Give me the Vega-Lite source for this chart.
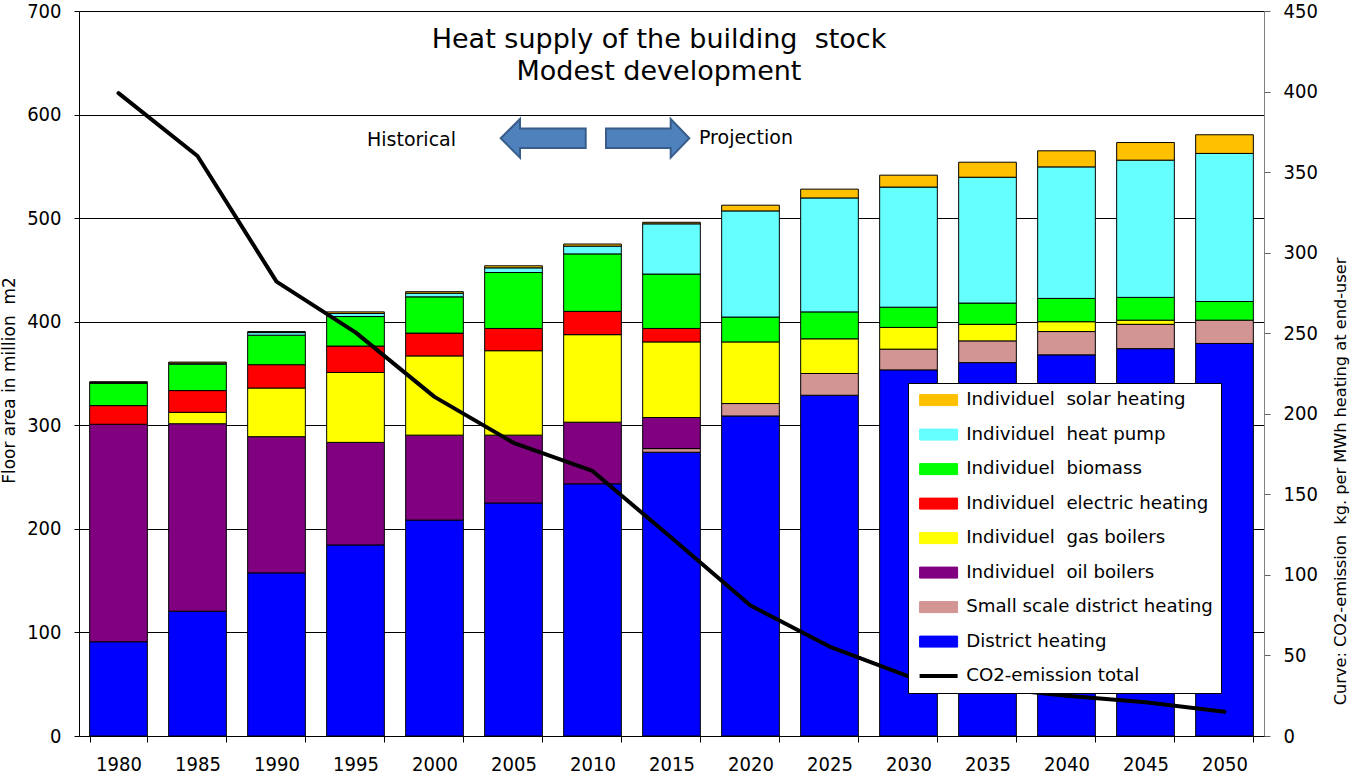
{
  "$schema": "https://vega.github.io/schema/vega-lite/v6.json",
  "width": 1185,
  "height": 725,
  "autosize": {"type": "none"},
  "padding": {"left": 79, "top": 11, "right": 86, "bottom": 42},
  "background": "white",
  "config": {"view": {"stroke": null}, "font": "DejaVu Sans"},
  "datasets": {
    "stock": [
      {"year": "1980", "type": "District heating", "rank": 1, "value": 91},
      {"year": "1980", "type": "Individuel oil boilers", "rank": 3, "value": 210},
      {"year": "1980", "type": "Individuel electric heating", "rank": 5, "value": 18},
      {"year": "1980", "type": "Individuel biomass", "rank": 6, "value": 21.5},
      {"year": "1980", "type": "Individuel heat pump", "rank": 7, "value": 1},
      {"year": "1980", "type": "Individuel solar heating", "rank": 8, "value": 0.5},
      {"year": "1985", "type": "District heating", "rank": 1, "value": 120.5},
      {"year": "1985", "type": "Individuel oil boilers", "rank": 3, "value": 181},
      {"year": "1985", "type": "Individuel gas boilers", "rank": 4, "value": 11},
      {"year": "1985", "type": "Individuel electric heating", "rank": 5, "value": 21},
      {"year": "1985", "type": "Individuel biomass", "rank": 6, "value": 25.5},
      {"year": "1985", "type": "Individuel heat pump", "rank": 7, "value": 1},
      {"year": "1985", "type": "Individuel solar heating", "rank": 8, "value": 1},
      {"year": "1990", "type": "District heating", "rank": 1, "value": 157.5},
      {"year": "1990", "type": "Individuel oil boilers", "rank": 3, "value": 131.5},
      {"year": "1990", "type": "Individuel gas boilers", "rank": 4, "value": 47},
      {"year": "1990", "type": "Individuel electric heating", "rank": 5, "value": 22.5},
      {"year": "1990", "type": "Individuel biomass", "rank": 6, "value": 28.5},
      {"year": "1990", "type": "Individuel heat pump", "rank": 7, "value": 2.5},
      {"year": "1990", "type": "Individuel solar heating", "rank": 8, "value": 1},
      {"year": "1995", "type": "District heating", "rank": 1, "value": 184.5},
      {"year": "1995", "type": "Individuel oil boilers", "rank": 3, "value": 99},
      {"year": "1995", "type": "Individuel gas boilers", "rank": 4, "value": 67.5},
      {"year": "1995", "type": "Individuel electric heating", "rank": 5, "value": 25.5},
      {"year": "1995", "type": "Individuel biomass", "rank": 6, "value": 28.5},
      {"year": "1995", "type": "Individuel heat pump", "rank": 7, "value": 3},
      {"year": "1995", "type": "Individuel solar heating", "rank": 8, "value": 1.5},
      {"year": "2000", "type": "District heating", "rank": 1, "value": 208.5},
      {"year": "2000", "type": "Individuel oil boilers", "rank": 3, "value": 82},
      {"year": "2000", "type": "Individuel gas boilers", "rank": 4, "value": 76.5},
      {"year": "2000", "type": "Individuel electric heating", "rank": 5, "value": 22},
      {"year": "2000", "type": "Individuel biomass", "rank": 6, "value": 35},
      {"year": "2000", "type": "Individuel heat pump", "rank": 7, "value": 3.5},
      {"year": "2000", "type": "Individuel solar heating", "rank": 8, "value": 1.5},
      {"year": "2005", "type": "District heating", "rank": 1, "value": 225},
      {"year": "2005", "type": "Individuel oil boilers", "rank": 3, "value": 65.5},
      {"year": "2005", "type": "Individuel gas boilers", "rank": 4, "value": 81.5},
      {"year": "2005", "type": "Individuel electric heating", "rank": 5, "value": 21.5},
      {"year": "2005", "type": "Individuel biomass", "rank": 6, "value": 54},
      {"year": "2005", "type": "Individuel heat pump", "rank": 7, "value": 4.5},
      {"year": "2005", "type": "Individuel solar heating", "rank": 8, "value": 2},
      {"year": "2010", "type": "District heating", "rank": 1, "value": 243.5},
      {"year": "2010", "type": "Individuel oil boilers", "rank": 3, "value": 59.5},
      {"year": "2010", "type": "Individuel gas boilers", "rank": 4, "value": 84.5},
      {"year": "2010", "type": "Individuel electric heating", "rank": 5, "value": 22.5},
      {"year": "2010", "type": "Individuel biomass", "rank": 6, "value": 55.5},
      {"year": "2010", "type": "Individuel heat pump", "rank": 7, "value": 7.5},
      {"year": "2010", "type": "Individuel solar heating", "rank": 8, "value": 2},
      {"year": "2015", "type": "District heating", "rank": 1, "value": 274},
      {"year": "2015", "type": "Small scale district heating", "rank": 2, "value": 3.5},
      {"year": "2015", "type": "Individuel oil boilers", "rank": 3, "value": 30},
      {"year": "2015", "type": "Individuel gas boilers", "rank": 4, "value": 73},
      {"year": "2015", "type": "Individuel electric heating", "rank": 5, "value": 13},
      {"year": "2015", "type": "Individuel biomass", "rank": 6, "value": 52.5},
      {"year": "2015", "type": "Individuel heat pump", "rank": 7, "value": 48.5},
      {"year": "2015", "type": "Individuel solar heating", "rank": 8, "value": 1.5},
      {"year": "2020", "type": "District heating", "rank": 1, "value": 309},
      {"year": "2020", "type": "Small scale district heating", "rank": 2, "value": 12},
      {"year": "2020", "type": "Individuel gas boilers", "rank": 4, "value": 59.5},
      {"year": "2020", "type": "Individuel biomass", "rank": 6, "value": 24},
      {"year": "2020", "type": "Individuel heat pump", "rank": 7, "value": 102.5},
      {"year": "2020", "type": "Individuel solar heating", "rank": 8, "value": 5.5},
      {"year": "2025", "type": "District heating", "rank": 1, "value": 329},
      {"year": "2025", "type": "Small scale district heating", "rank": 2, "value": 21},
      {"year": "2025", "type": "Individuel gas boilers", "rank": 4, "value": 33.5},
      {"year": "2025", "type": "Individuel biomass", "rank": 6, "value": 26},
      {"year": "2025", "type": "Individuel heat pump", "rank": 7, "value": 110},
      {"year": "2025", "type": "Individuel solar heating", "rank": 8, "value": 8.5},
      {"year": "2030", "type": "District heating", "rank": 1, "value": 353.5},
      {"year": "2030", "type": "Small scale district heating", "rank": 2, "value": 20},
      {"year": "2030", "type": "Individuel gas boilers", "rank": 4, "value": 21},
      {"year": "2030", "type": "Individuel biomass", "rank": 6, "value": 19.5},
      {"year": "2030", "type": "Individuel heat pump", "rank": 7, "value": 116},
      {"year": "2030", "type": "Individuel solar heating", "rank": 8, "value": 11.5},
      {"year": "2035", "type": "District heating", "rank": 1, "value": 360.5},
      {"year": "2035", "type": "Small scale district heating", "rank": 2, "value": 21},
      {"year": "2035", "type": "Individuel gas boilers", "rank": 4, "value": 16},
      {"year": "2035", "type": "Individuel biomass", "rank": 6, "value": 20.5},
      {"year": "2035", "type": "Individuel heat pump", "rank": 7, "value": 121.5},
      {"year": "2035", "type": "Individuel solar heating", "rank": 8, "value": 14.5},
      {"year": "2040", "type": "District heating", "rank": 1, "value": 368},
      {"year": "2040", "type": "Small scale district heating", "rank": 2, "value": 22.5},
      {"year": "2040", "type": "Individuel gas boilers", "rank": 4, "value": 9.5},
      {"year": "2040", "type": "Individuel biomass", "rank": 6, "value": 22.5},
      {"year": "2040", "type": "Individuel heat pump", "rank": 7, "value": 127},
      {"year": "2040", "type": "Individuel solar heating", "rank": 8, "value": 15.5},
      {"year": "2045", "type": "District heating", "rank": 1, "value": 374},
      {"year": "2045", "type": "Small scale district heating", "rank": 2, "value": 23.5},
      {"year": "2045", "type": "Individuel gas boilers", "rank": 4, "value": 4},
      {"year": "2045", "type": "Individuel biomass", "rank": 6, "value": 22},
      {"year": "2045", "type": "Individuel heat pump", "rank": 7, "value": 132.5},
      {"year": "2045", "type": "Individuel solar heating", "rank": 8, "value": 17},
      {"year": "2050", "type": "District heating", "rank": 1, "value": 379},
      {"year": "2050", "type": "Small scale district heating", "rank": 2, "value": 22.5},
      {"year": "2050", "type": "Individuel biomass", "rank": 6, "value": 18},
      {"year": "2050", "type": "Individuel heat pump", "rank": 7, "value": 143},
      {"year": "2050", "type": "Individuel solar heating", "rank": 8, "value": 18}
    ],
    "co2": [
      {"year": "1980", "co2": 399},
      {"year": "1985", "co2": 360},
      {"year": "1990", "co2": 282},
      {"year": "1995", "co2": 250.5},
      {"year": "2000", "co2": 210.5},
      {"year": "2005", "co2": 182},
      {"year": "2010", "co2": 164.5},
      {"year": "2015", "co2": 123},
      {"year": "2020", "co2": 81},
      {"year": "2025", "co2": 55.5},
      {"year": "2030", "co2": 37},
      {"year": "2035", "co2": 30},
      {"year": "2040", "co2": 25},
      {"year": "2045", "co2": 21},
      {"year": "2050", "co2": 15}
    ],
    "titles": [
      {"year": "2015", "v": 664.3, "t": "Heat supply of the building\u00a0 stock"},
      {"year": "2015", "v": 633.4, "t": "Modest development"}
    ],
    "hist": [{"year": "2010", "v": 569.2, "t": "Historical"}],
    "proj": [{"year": "2010", "v": 571.6, "t": "Projection"}],
    "arrow": [{"year": "2010", "v": 577.1}]
  },
  "layer": [
    {
      "data": {"name": "stock"},
      "mark": {"type": "bar", "stroke": "black", "strokeWidth": 1},
      "encoding": {
        "x": {
          "field": "year", "type": "ordinal",
          "scale": {"paddingInner": 0.27, "paddingOuter": 0.135},
          "axis": {
            "title": null, "labelAngle": 0,
            "labelFont": "DejaVu Sans Condensed, Liberation Sans", "labelFontSize": 20, "labelColor": "black",
            "domainColor": "black", "domainWidth": 1, "tickColor": "black", "tickSize": 6, "tickBand": "extent",
            "labelPadding": 12, "zindex": 1
          }
        },
        "y": {
          "field": "value", "type": "quantitative", "stack": "zero",
          "scale": {"domain": [0, 700], "nice": false},
          "axis": {
            "title": "Floor area in million\u00a0 m2", "titleFont": "DejaVu Sans", "titleFontSize": 17,
            "titleFontWeight": "normal", "titleColor": "black", "titleAngle": 270,
            "titleX": -70, "titleY": 369, "titleAlign": "center", "titleBaseline": "middle",
            "values": [0, 100, 200, 300, 400, 500, 600, 700],
            "grid": true, "gridColor": "black", "gridWidth": 1, "gridOpacity": 1,
            "domainColor": "black", "tickColor": "black", "tickSize": 5,
            "labelPadding": 13, "labelFont": "DejaVu Sans Condensed, Liberation Sans", "labelFontSize": 20, "labelColor": "black"
          }
        },
        "color": {
          "field": "type", "type": "nominal",
          "scale": {
            "domain": ["Individuel solar heating", "Individuel heat pump", "Individuel biomass", "Individuel electric heating", "Individuel gas boilers", "Individuel oil boilers", "Small scale district heating", "District heating", "CO2-emission total"],
            "range": ["#FFC000", "#66FFFF", "#00FF00", "#FF0000", "#FFFF00", "#800080", "#D39494", "#0000FF", "#000000"]
          },
          "legend": {
            "orient": "none", "legendX": 829, "legendY": 372, "title": null,
            "fillColor": "white", "strokeColor": "black", "padding": 8,
            "labelFont": "DejaVu Sans", "labelFontSize": 18.2, "labelColor": "black", "labelLimit": 400,
            "symbolType": "M-3.8,-1.1H3.8V1.1H-3.8Z", "symbolSize": 100,
            "symbolStrokeColor": "black", "symbolStrokeWidth": 1, "symbolOpacity": 1,
            "symbolOffset": 13.5, "labelOffset": 18.5, "rowPadding": 15.5,
            "labelExpr": "replace(datum.label, 'Individuel ', 'Individuel\u00a0 ')",
            "encode": {
              "symbols": {
                "update": {
                  "shape": {"signal": "datum.value === 'CO2-emission total' ? 'M-3.8,0H3.8' : 'M-3.8,-1.1H3.8V1.1H-3.8Z'"},
                  "strokeWidth": {"signal": "datum.value === 'CO2-emission total' ? 4 : 1"},
                  "stroke": {"value": "black"},
                  "fill": {"scale": "color", "field": "value"},
                  "opacity": {"value": 1}
                }
              }
            }
          }
        },
        "order": {"field": "rank", "type": "quantitative", "sort": "ascending"}
      }
    },
    {
      "data": {"name": "co2"},
      "mark": {"type": "line", "strokeWidth": 4, "strokeJoin": "round", "strokeCap": "round"},
      "encoding": {
        "x": {"field": "year", "type": "ordinal"},
        "y": {
          "field": "co2", "type": "quantitative",
          "scale": {"domain": [0, 450], "nice": false},
          "axis": {
            "orient": "right", "grid": false,
            "values": [0, 50, 100, 150, 200, 250, 300, 350, 400, 450],
            "domainColor": "#808080", "tickColor": "#606060", "tickSize": 6,
            "labelPadding": 13, "labelFont": "DejaVu Sans Condensed, Liberation Sans", "labelFontSize": 20, "labelColor": "black",
            "title": "Curve: CO2-emission\u00a0 kg. per MWh heating at end-user",
            "titleFont": "DejaVu Sans", "titleFontSize": 16.2, "titleFontWeight": "normal", "titleColor": "black",
            "titleAngle": 270, "titleX": 76, "titleY": 470, "titleAlign": "center", "titleBaseline": "middle"
          }
        },
        "color": {"datum": "CO2-emission total"}
      }
    },
    {
      "data": {"name": "titles"},
      "mark": {"type": "text", "font": "DejaVu Sans", "fontSize": 27, "dx": -12.5, "align": "center", "baseline": "alphabetic", "color": "black"},
      "encoding": {
        "x": {"field": "year", "type": "ordinal"},
        "y": {"field": "v", "type": "quantitative", "scale": {"domain": [0, 700], "nice": false}, "axis": null},
        "text": {"field": "t"}
      }
    },
    {
      "data": {"name": "hist"},
      "mark": {"type": "text", "font": "DejaVu Sans", "fontSize": 19, "dx": -136.5, "align": "right", "baseline": "alphabetic", "color": "black"},
      "encoding": {
        "x": {"field": "year", "type": "ordinal"},
        "y": {"field": "v", "type": "quantitative", "scale": {"domain": [0, 700], "nice": false}, "axis": null},
        "text": {"field": "t"}
      }
    },
    {
      "data": {"name": "proj"},
      "mark": {"type": "text", "font": "DejaVu Sans", "fontSize": 19, "dx": 106.5, "align": "left", "baseline": "alphabetic", "color": "black"},
      "encoding": {
        "x": {"field": "year", "type": "ordinal"},
        "y": {"field": "v", "type": "quantitative", "scale": {"domain": [0, 700], "nice": false}, "axis": null},
        "text": {"field": "t"}
      }
    },
    {
      "data": {"name": "arrow"},
      "mark": {"type": "point", "shape": "M-91.8,0L-72.5,-19.3L-72.5,-9.7L-6.8,-9.7L-6.8,9.7L-72.5,9.7L-72.5,19.3Z", "size": 4, "filled": true, "fill": "#4F81BD", "stroke": "#385D8A", "strokeWidth": 2, "opacity": 1},
      "encoding": {
        "x": {"field": "year", "type": "ordinal"},
        "y": {"field": "v", "type": "quantitative", "scale": {"domain": [0, 700], "nice": false}, "axis": null}
      }
    },
    {
      "data": {"name": "arrow"},
      "mark": {"type": "point", "shape": "M96.8,0L78.2,-19.3L78.2,-9.7L13.5,-9.7L13.5,9.7L78.2,9.7L78.2,19.3Z", "size": 4, "filled": true, "fill": "#4F81BD", "stroke": "#385D8A", "strokeWidth": 2, "opacity": 1},
      "encoding": {
        "x": {"field": "year", "type": "ordinal"},
        "y": {"field": "v", "type": "quantitative", "scale": {"domain": [0, 700], "nice": false}, "axis": null}
      }
    }
  ],
  "resolve": {"scale": {"y": "independent"}}
}
